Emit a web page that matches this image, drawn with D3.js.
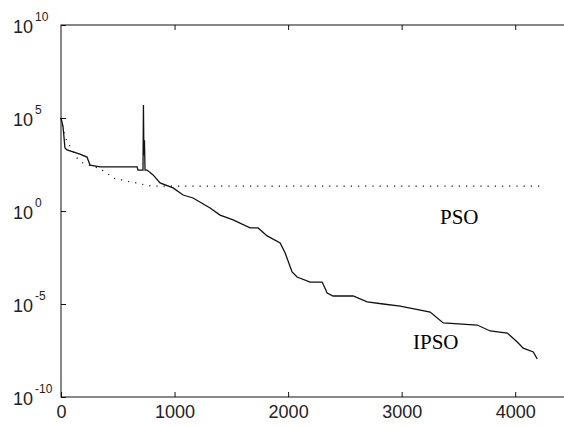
<!DOCTYPE html>
<html>
<head>
<meta charset="utf-8">
<script src="https://cdn.jsdelivr.net/npm/d3@7"></script>
<style>
    body { margin: 0; background: #fff; }
    svg { display: block; }
    .tick text { font-family: "Liberation Sans", Arial, sans-serif; fill: #222; }
</style>
</head>
<body>
<svg id="chart" width="564" height="426"></svg>
<script>
"use strict";

// iteration index, log10 of fitness
const ipsoX = [0, 18, 35, 53, 167, 229, 256, 344, 670, 678, 714, 722, 726, 730, 735, 740, 758, 811, 872, 987,
    1075, 1163, 1313, 1401, 1515, 1665, 1736, 1815, 1930, 1974, 2035, 2079, 2194, 2300, 2344, 2396, 2573,
    2696, 2837, 2987, 3251, 3366, 3665, 3780, 3930, 4018, 4070, 4159, 4194];
const ipsoLog = [5.0, 4.52, 3.39, 3.28, 3.06, 2.90, 2.47, 2.37, 2.37, 2.20, 2.20, 2.20, 5.70, 3.0, 3.8, 2.20, 2.20, 1.94, 1.51, 1.24,
    0.86, 0.70, 0.16, -0.22, -0.48, -0.91, -0.91, -1.34, -1.72, -2.26, -3.28, -3.55, -3.82, -3.82, -4.41, -4.57, -4.57,
    -4.89, -5.0, -5.11, -5.43, -6.02, -6.13, -6.45, -6.56, -7.04, -7.37, -7.58, -7.96];

const psoX = [0, 35, 62, 141, 194, 326, 405, 458, 537, 608, 670, 740, 802, 4220];
const psoLog = [5.0, 3.98, 3.66, 2.85, 2.58, 2.31, 2.04, 1.77, 1.67, 1.56, 1.51, 1.40, 1.34, 1.34];

const xTicks = [0, 1000, 2000, 3000, 4000];
const yTickExp = [-10, -5, 0, 5, 10];

const plotLeft = 61, plotRight = 572, plotTop = 25, plotBottom = 397;

const svg = d3.select("#chart");

const x = d3.scaleLinear().domain([0, 4500]).range([plotLeft, plotRight]);
const y = d3.scaleLog().domain([1e-10, 1e10]).range([plotBottom, plotTop]);

// frame
svg.append("rect")
    .attr("x", plotLeft).attr("y", plotTop)
    .attr("width", plotRight - plotLeft).attr("height", plotBottom - plotTop)
    .attr("fill", "none").attr("stroke", "#111").attr("stroke-width", 1);

svg.append("g")
    .attr("transform", `translate(0,${plotBottom})`)
    .call(d3.axisBottom(x).tickValues(xTicks).tickSize(-5).tickPadding(8).tickFormat(d3.format("d")))
    .call(g => g.select(".domain").remove())
    .call(g => g.selectAll(".tick text").attr("font-size", 18).attr("dy", "0.71em"))
    .call(g => g.selectAll(".tick line").attr("stroke", "#111"));

svg.append("g")
    .attr("transform", `translate(0,${plotTop})`)
    .call(d3.axisTop(x).tickValues(xTicks.slice(1)).tickSize(-5).tickFormat(""))
    .call(g => g.select(".domain").remove())
    .call(g => g.selectAll(".tick line").attr("stroke", "#111"));

const yAxis = svg.append("g")
    .attr("transform", `translate(${plotLeft},0)`)
    .call(d3.axisLeft(y).tickValues(yTickExp.map(e => Math.pow(10, e))).tickSize(-5).tickFormat(""))
    .call(g => g.select(".domain").remove())
    .call(g => g.selectAll(".tick line").attr("stroke", "#111"));

yAxis.selectAll(".tick").each(function (d) {
    const e = Math.round(Math.log10(d));
    const t = d3.select(this).append("text")
        .attr("x", 13 - plotLeft).attr("y", 7)
        .attr("text-anchor", "start")
        .attr("font-size", 18);
    t.append("tspan").text("10");
    t.append("tspan").attr("font-size", 12).attr("dx", 2).attr("dy", -12).text(e);
});

const line = d3.line()
    .x(d => x(d[0]))
    .y(d => y(Math.pow(10, d[1])));

svg.append("path")
    .datum(psoX.map((v, i) => [v, psoLog[i]]))
    .attr("d", line)
    .attr("fill", "none")
    .attr("stroke", "#111")
    .attr("stroke-width", 1.2)
    .attr("stroke-dasharray", "1.2,6");

svg.append("path")
    .datum(ipsoX.map((v, i) => [v, ipsoLog[i]]))
    .attr("d", line)
    .attr("fill", "none")
    .attr("stroke", "#111")
    .attr("stroke-width", 1.3);

svg.append("text")
    .attr("x", 440).attr("y", 224)
    .attr("font-family", "'Liberation Serif', 'Times New Roman', serif")
    .attr("font-size", 21)
    .text("PSO");

svg.append("text")
    .attr("x", 413).attr("y", 349)
    .attr("font-family", "'Liberation Serif', 'Times New Roman', serif")
    .attr("font-size", 21)
    .text("IPSO");
</script>
</body>
</html>
